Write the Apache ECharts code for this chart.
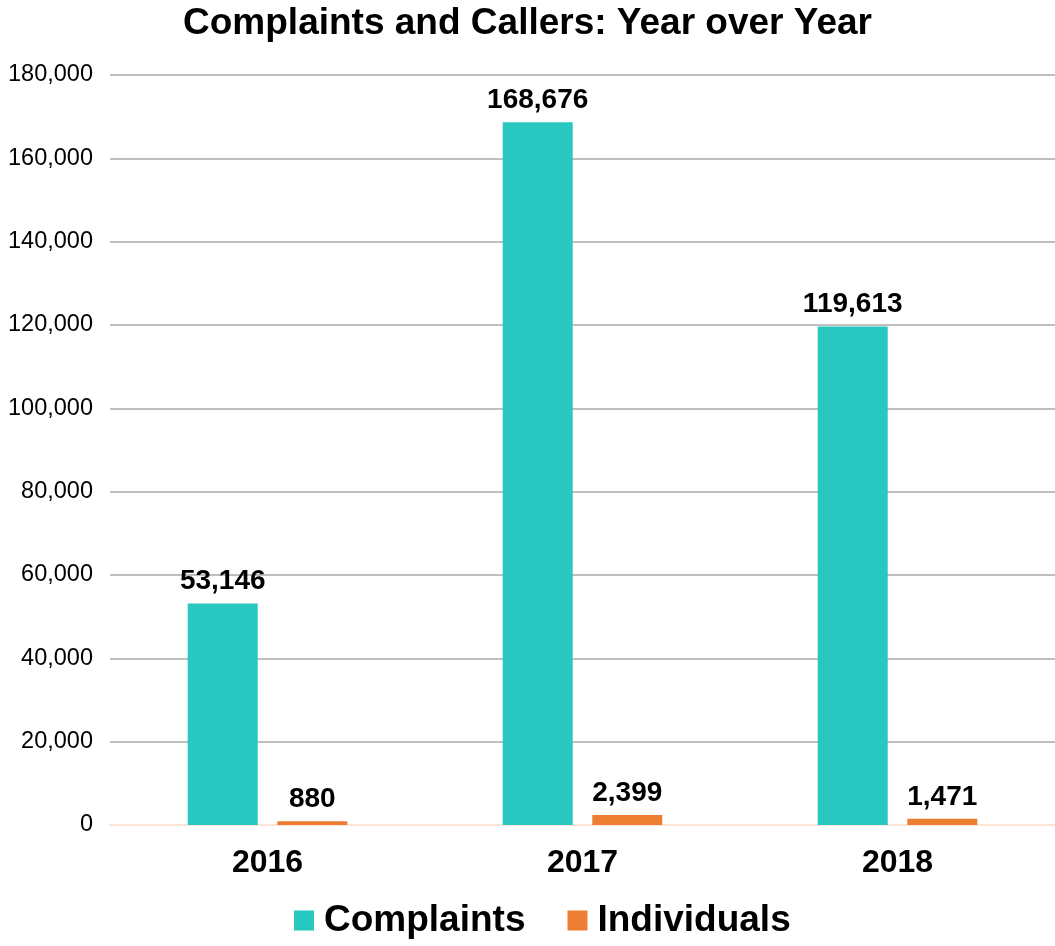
<!DOCTYPE html>
<html>
<head>
<meta charset="utf-8">
<script src="https://cdn.jsdelivr.net/npm/echarts@6/dist/echarts.min.js"></script>
<style>
  html, body { margin: 0; padding: 0; background: #fff; }
  #chart { width: 1055px; height: 946px; }
</style>
</head>
<body>
<div id="chart"></div>
<script>
const years = ["2016", "2017", "2018"];
const complaints = [53146, 168676, 119613];
const individuals = [880, 2399, 1471];
const yTicks = { min: 0, max: 180000, interval: 20000 };

const chart = echarts.init(document.getElementById("chart"));
const font = "'Liberation Sans', Arial, sans-serif";
const label = {
  show: true,
  position: "top",
  distance: 8,
  fontFamily: font,
  fontWeight: "bold",
  fontSize: 28,
  color: "#000",
  formatter: p => p.value.toLocaleString("en-US")
};

chart.setOption({
  animation: false,
  title: {
    text: "Complaints and Callers: Year over Year",
    left: "center",
    top: 0,
    textStyle: { fontFamily: font, fontWeight: "bold", fontSize: 37, color: "#000" }
  },
  legend: {
    bottom: 2,
    left: 289,
    itemWidth: 20,
    itemHeight: 20,
    itemGap: 42,
    icon: "rect",
    textStyle: {
      fontFamily: font, fontWeight: "bold", fontSize: 37, color: "#000",
      padding: [0, 0, 0, 5]
    },
    data: ["Complaints", "Individuals"]
  },
  grid: { left: 110, right: 0, top: 75, bottom: 121, containLabel: false },
  xAxis: {
    type: "category",
    data: years,
    axisLine: { lineStyle: { color: "#FCE4D6", width: 2 } },
    axisTick: { show: false },
    axisLabel: { fontFamily: font, fontWeight: "bold", fontSize: 32, color: "#000", margin: 22 }
  },
  yAxis: {
    type: "value",
    min: yTicks.min,
    max: yTicks.max,
    interval: yTicks.interval,
    axisLine: { show: false },
    axisTick: { show: false },
    axisLabel: {
      fontFamily: font, fontSize: 23.5, color: "#000", margin: 17,
      formatter: v => v.toLocaleString("en-US")
    },
    splitLine: { lineStyle: { color: "#BFBFBF", width: 2 } }
  },
  series: [
    {
      name: "Complaints",
      type: "bar",
      data: complaints,
      barWidth: 70,
      barGap: "28%",
      itemStyle: { color: "#28C7BF" },
      label: label
    },
    {
      name: "Individuals",
      type: "bar",
      data: individuals,
      barWidth: 70,
      itemStyle: { color: "#ED7D31" },
      label: label
    }
  ]
});
</script>
</body>
</html>
